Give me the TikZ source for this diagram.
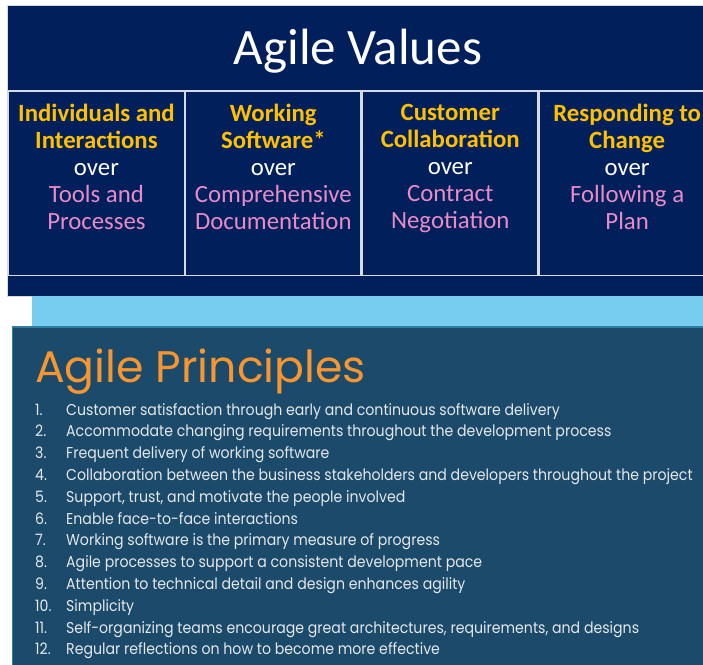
\documentclass[tikz,border=0pt]{standalone}
\usepackage{fontspec}
\setmainfont{Carlito}
\newfontfamily\princfont[FakeStretch=0.9]{Poppins}
\newfontfamily\princhead{Poppins}
\usetikzlibrary{positioning}
\definecolor{valuenavy}{HTML}{001F5B}
\definecolor{cellline}{HTML}{D5DAE4}
\definecolor{valueyellow}{HTML}{FFC000}
\definecolor{valuepink}{HTML}{E88BC9}
\definecolor{bandblue}{HTML}{76CDF0}
\definecolor{princblue}{HTML}{1B4A6A}
\definecolor{princedge}{HTML}{2C7EA3}
\definecolor{princorange}{HTML}{F7962E}
\definecolor{princtext}{HTML}{E4E8EC}
\newcommand{\valhi}[1]{\textcolor{valueyellow}{\bfseries #1}}
\newcommand{\vallo}[1]{\textcolor{valuepink}{#1}}

\begin{document}
\begin{tikzpicture}[x=1pt, y=-1pt, node distance = 0pt,
  valuebox/.style={
    % The shape:
    rectangle, anchor=north west, inner sep=0pt,
    % The border:
    draw=cellline, line width=1pt,
    % The filling:
    fill=valuenavy},
  valuecell/.style={
    % The shape:
    rectangle, anchor=north west, inner sep=0pt,
    % The size:
    minimum width=175.5pt, minimum height=184pt,
    % The border:
    draw=cellline, line width=1.4pt},
  valuetext/.style={
    inner sep=0pt, text=white,
    font=\fontsize{24.8}{27}\selectfont,
    align = center % required if you use new line
  },
  princtitle/.style={
    inner sep=0pt, anchor=base west, text=princorange,
    font=\princhead\fontsize{44.2}{50}\selectfont},
  princitem/.style={
    inner sep=0pt, anchor=base west, text=princtext,
    font=\princfont\fontsize{15.7}{18}\selectfont}]

  \useasboundingbox (0,0) rectangle (703,664);
  \fill[white] (0,0) rectangle (703,664);

  % values
  \node (values) [valuebox, minimum width=710pt, minimum height=291pt] at (7,5) {};
  \node (valtitle) [inner sep=0pt, anchor=base, text=white,
    font=\fontsize{51}{54}\selectfont] at (358,64) {Agile Values};

  \node (cell1) [valuecell] at (8,91) {};
  \node (cell2) [valuecell, right = of cell1] {};
  \node (cell3) [valuecell, right = of cell2] {};
  \node (cell4) [valuecell, right = of cell3] {};
  \draw[cellline, line width=1.4pt] (values.west |- cell1.north) -- (values.east |- cell1.north);

  \node (text1) [valuetext, below = 13pt of cell1.north]
    {\valhi{Individuals and}\\\valhi{Interactions}\\over\\\vallo{Tools and}\\\vallo{Processes}};
  \node (text2) [valuetext, below = 13pt of cell2.north]
    {\valhi{Working}\\\valhi{Software*}\\over\\\vallo{Comprehensive}\\\vallo{Documentation}};
  \node (text3) [valuetext, below = 13pt of cell3.north]
    {\valhi{Customer}\\\valhi{Collaboration}\\over\\\vallo{Contract}\\\vallo{Negotiation}};
  \node (text4) [valuetext, below = 13pt of cell4.north]
    {\valhi{Responding to}\\\valhi{Change}\\over\\\vallo{Following a}\\\vallo{Plan}};

  % principles
  \node (band) [anchor=north west, inner sep=0pt, fill=bandblue,
    minimum width=680pt, minimum height=30pt] at (32,296) {};
  \node (principles) [anchor=north west, inner sep=0pt, fill=princblue,
    draw=princedge, line width=1.2pt, minimum width=700pt, minimum height=345pt]
    at (band.south west -| 12,0) {};
  \node (ptitle) [princtitle] at (35,382) {Agile Principles};

  \foreach \txt [count=\i] in {
    {Customer satisfaction through early and continuous software delivery},
    {Accommodate changing requirements throughout the development process},
    {Frequent delivery of working software},
    {Collaboration between the business stakeholders and developers throughout the project},
    {Support, trust, and motivate the people involved},
    {Enable face-to-face interactions},
    {Working software is the primary measure of progress},
    {Agile processes to support a consistent development pace},
    {Attention to technical detail and design enhances agility},
    {Simplicity},
    {Self-organizing teams encourage great architectures, requirements, and designs},
    {Regular reflections on how to become more effective}} {
    \node (num\i) [princitem] at (35, {393.2+21.8*\i}) {\i.};
    \node (item\i) [princitem] at (66, {393.2+21.8*\i}) {\txt};
  }
\end{tikzpicture}
\end{document}
